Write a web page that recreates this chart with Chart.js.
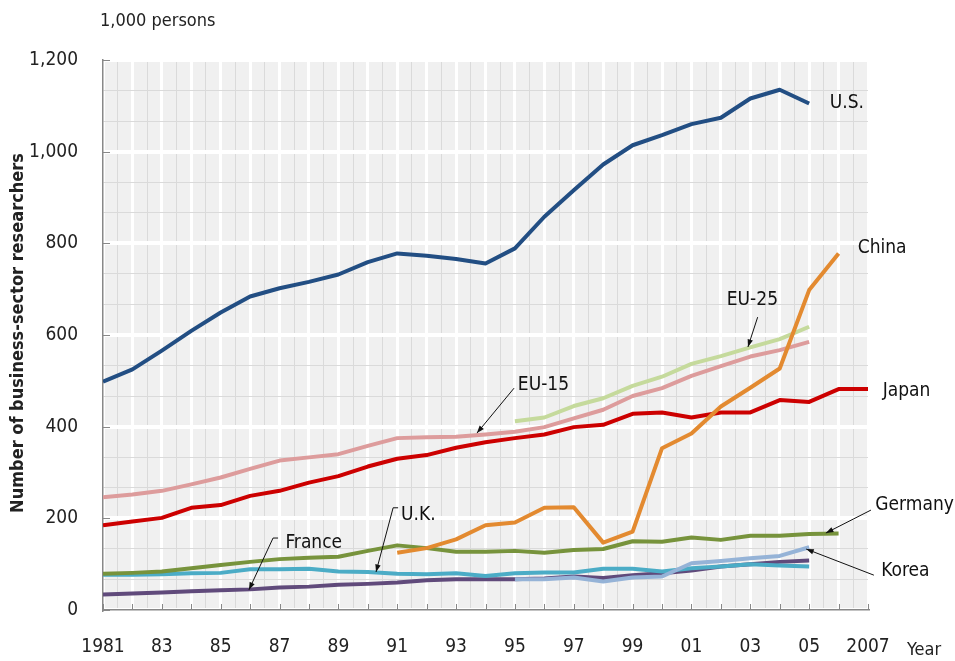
<!DOCTYPE html>
<html>
<head>
<meta charset="utf-8">
<script src="https://cdn.jsdelivr.net/npm/chart.js@4.4.1/dist/chart.umd.min.js"></script>
<style>
  body { margin: 0; background: #fff; }
  #wrap { width: 955px; height: 661px; }
</style>
</head>
<body>
<div id="wrap"><canvas id="chart" width="955" height="661"></canvas></div>
<script>
// years on the x axis
const years = [1981, 1982, 1983, 1984, 1985, 1986, 1987, 1988, 1989, 1990,
  1991, 1992, 1993, 1994, 1995, 1996, 1997, 1998, 1999, 2000,
  2001, 2002, 2003, 2004, 2005, 2006, 2007];

// business-sector researchers, 1,000 persons (null = no data)
const us = [498, 525, 566, 609, 649, 684, 702, 716, 732, 759, 778, 773, 766, 756, 789, 858, 916, 972, 1014, 1036, 1060, 1074, 1116, 1135, 1105, null, null];
const china = [null, null, null, null, null, null, null, null, null, null, 125, 135, 154, 185, 191, 223, 224, 147, 171, 353, 385, 444, 485, 527, 698, 778, null];
const eu25 = [null, null, null, null, null, null, null, null, null, null, null, null, null, null, 412, 420, 445, 462, 489, 509, 537, 554, 573, 591, 618, null, null];
const eu15 = [246, 252, 260, 274, 289, 308, 326, 333, 340, 358, 375, 377, 378, 383, 389, 399, 418, 437, 467, 484, 511, 532, 553, 567, 585, null, null];
const japan = [185, 193, 201, 223, 229, 249, 260, 278, 292, 313, 330, 338, 354, 366, 375, 383, 399, 404, 428, 431, 420, 431, 431, 458, 454, 482, 482];
const germany = [79, 81, 84, 91, 98, 105, 111, 114, 116, 129, 141, 135, 127, 127, 129, 125, 131, 133, 150, 149, 158, 153, 162, 162, 166, 167, null];
const uk = [77, 77, 78, 80, 81, 89, 89, 90, 84, 83, 79, 78, 80, 74, 80, 82, 82, 90, 90, 84, 91, 95, 100, 97, 95, null, null];
const france = [34, 36, 38, 41, 43, 45, 49, 51, 55, 57, 60, 65, 67, 67, 67, 69, 73, 70, 76, 80, 86, 95, 100, 105, 108, null, null];
const korea = [null, null, null, null, null, null, null, null, null, null, null, null, null, null, 67, 67, 71, 62, 71, 73, 102, 107, 113, 118, 137, null, null];

const FONT = '"Liberation Sans Narrow", "DejaVu Sans Condensed", "Arial Narrow", sans-serif';

function pts(vals) {
  return years.map((yr, i) => ({ x: yr, y: vals[i] }));
}

function line(vals, color) {
  return {
    data: pts(vals),
    borderColor: color,
    borderWidth: 4,
    pointRadius: 0,
    tension: 0,
    spanGaps: false,
    borderCapStyle: 'butt',
    borderJoinStyle: 'round'
  };
}

// first dataset is painted on top
const datasets = [
  line(korea, '#95b3d7'),
  line(china, '#e38a30'),
  line(us, '#224e83'),
  line(eu25, '#c5da9c'),
  line(eu15, '#dd9c9c'),
  line(japan, '#cc0000'),
  line(germany, '#77933c'),
  line(uk, '#4bacc6'),
  line(france, '#604a7b')
];

// labels & arrows, placed in data units
const notes = [
  { text: 'U.S.', at: [2005.7, 1106] },
  { text: 'China', at: [2006.65, 790] },
  { text: 'EU-25', at: [2002.2, 676], from: [2003.25, 639], to: [2002.92, 574] },
  { text: 'EU-15', at: [1995.1, 491], from: [1994.97, 484], to: [1993.71, 386] },
  { text: 'Japan', at: [2007.5, 478] },
  { text: 'Germany', at: [2007.25, 229], from: [2007.1, 218], to: [2005.57, 168] },
  { text: 'Korea', at: [2007.45, 85], from: [2007.2, 76], to: [2004.9, 133] },
  { text: 'U.K.', at: [1991.13, 207], from: [1990.86, 223], to: [1990.28, 83], hook: true },
  { text: 'France', at: [1987.2, 146], from: [1986.78, 157], to: [1985.96, 44], hook: true }
];

const backdrop = {
  id: 'backdrop',
  beforeDraw(chart) {
    const { ctx, chartArea: a } = chart;
    ctx.save();
    ctx.fillStyle = '#f0f0f0';
    ctx.fillRect(a.left, a.top, a.right - a.left, a.bottom - a.top);
    ctx.restore();
  },
  afterDraw(chart) {
    const { ctx, chartArea: a, scales } = chart;
    const xs = scales.x, ys = scales.y;
    ctx.save();
    // inward tick marks
    ctx.strokeStyle = '#888';
    ctx.lineWidth = 1;
    ctx.beginPath();
    for (let v = 0; v <= 1200; v += 200) {
      const py = Math.round(ys.getPixelForValue(v)) + 0.5;
      ctx.moveTo(a.left, py); ctx.lineTo(a.left + 7, py);
    }
    for (const yr of years) {
      const px = Math.round(xs.getPixelForValue(yr)) + 0.5;
      ctx.moveTo(px, a.bottom); ctx.lineTo(px, a.bottom - 6);
    }
    ctx.stroke();

    // texts
    ctx.fillStyle = '#222';
    ctx.font = '18px ' + FONT;
    ctx.textBaseline = 'middle';
    ctx.textAlign = 'left';
    ctx.fillText('1,000 persons', 100, 21);
    ctx.fillText('Year', 907, 650);

    ctx.save();
    ctx.translate(18, (a.top + a.bottom) / 2 - 2);
    ctx.rotate(-Math.PI / 2);
    ctx.textAlign = 'center';
    ctx.font = 'bold 18px ' + FONT;
    ctx.fillText('Number of business-sector researchers', 0, 0);
    ctx.restore();

    ctx.font = '19px ' + FONT;
    for (const n of notes) {
      ctx.fillStyle = '#111';
      ctx.fillText(n.text, xs.getPixelForValue(n.at[0]), ys.getPixelForValue(n.at[1]));
      if (!n.from) continue;
      const x1 = xs.getPixelForValue(n.from[0]), y1 = ys.getPixelForValue(n.from[1]);
      const x2 = xs.getPixelForValue(n.to[0]), y2 = ys.getPixelForValue(n.to[1]);
      ctx.strokeStyle = '#111';
      ctx.lineWidth = 1;
      ctx.beginPath();
      if (n.hook) { ctx.moveTo(x1 + 5, y1); ctx.lineTo(x1, y1); } else { ctx.moveTo(x1, y1); }
      ctx.lineTo(x2, y2);
      ctx.stroke();
      const ang = Math.atan2(y2 - y1, x2 - x1);
      ctx.beginPath();
      ctx.moveTo(x2, y2);
      ctx.lineTo(x2 - 8 * Math.cos(ang - 0.35), y2 - 8 * Math.sin(ang - 0.35));
      ctx.lineTo(x2 - 8 * Math.cos(ang + 0.35), y2 - 8 * Math.sin(ang + 0.35));
      ctx.closePath();
      ctx.fill();
    }
    ctx.restore();
  }
};

new Chart(document.getElementById('chart'), {
  type: 'line',
  data: { datasets },
  plugins: [backdrop],
  options: {
    responsive: false,
    animation: false,
    devicePixelRatio: 1,
    layout: { padding: { top: 60, right: 87, left: 0, bottom: 0 } },
    plugins: { legend: { display: false }, tooltip: { enabled: false } },
    scales: {
      x: {
        type: 'linear',
        min: 1981,
        max: 2007,
        afterBuildTicks(s) {
          const t = [];
          for (let v = 1981; v <= 2007; v += 0.5) t.push({ value: v });
          s.ticks = t;
        },
        afterFit(s) { s.height = 51; },
        ticks: {
          autoSkip: false,
          maxRotation: 0,
          padding: 26,
          color: '#222',
          font: { size: 19, family: FONT },
          callback(v) {
            if (!Number.isInteger(v) || v % 2 === 0) return '';
            if (v === 1981 || v === 2007) return String(v);
            return String(v % 100).padStart(2, '0');
          }
        },
        grid: {
          drawTicks: false,
          color: c => Number.isInteger(c.tick.value) ? '#ffffff' : '#dadada',
          lineWidth: c => Number.isInteger(c.tick.value) ? 3 : 1
        },
        border: { display: true, color: '#888', width: 1.5 }
      },
      y: {
        min: 0,
        max: 1200,
        afterBuildTicks(s) {
          const t = [];
          for (let i = 0; i <= 36; i++) t.push({ value: i * 200 / 6 });
          s.ticks = t;
        },
        afterFit(s) { s.width = 103; },
        ticks: {
          padding: 25,
          color: '#222',
          font: { size: 19, family: FONT },
          callback(v) {
            const r = Math.round(v);
            if (Math.abs(v - r) > 0.01 || r % 200 !== 0) return '';
            return r.toLocaleString('en-US');
          }
        },
        grid: {
          drawTicks: false,
          color: c => {
            const r = Math.round(c.tick.value);
            return (Math.abs(c.tick.value - r) < 0.01 && r % 200 === 0) ? '#ffffff' : '#dadada';
          },
          lineWidth: c => {
            const r = Math.round(c.tick.value);
            return (Math.abs(c.tick.value - r) < 0.01 && r % 200 === 0) ? 4 : 1;
          }
        },
        border: { display: true, color: '#888', width: 1.5 }
      }
    }
  }
});
</script>
</body>
</html>
